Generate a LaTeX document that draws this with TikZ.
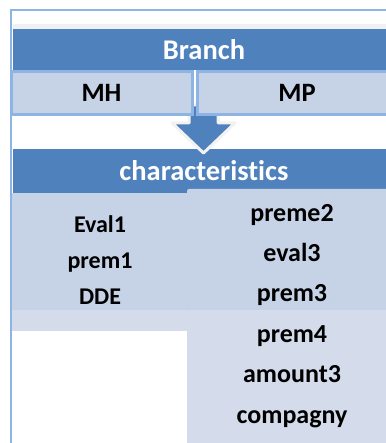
\documentclass[tikz,border=0pt]{standalone}
\usepackage{fontspec}
\setmainfont{Carlito}[Ligatures=NoCommon]
\definecolor{barblue}{RGB}{79,129,189}
\definecolor{boxfill}{RGB}{198,210,230}
\definecolor{boxlight}{RGB}{212,220,235}
\definecolor{edgeblue}{RGB}{141,180,226}
\definecolor{stripgray}{RGB}{241,241,241}
\tikzset{
  >=latex,
  bar/.style={fill=barblue,text=white,font=\bfseries\fontsize{28.5}{32}\selectfont,
    minimum width=382,minimum height=41,inner sep=0pt},
  tab/.style={fill=boxfill,draw=edgeblue,line width=3pt,font=\bfseries\fontsize{26.5}{30}\selectfont,
    minimum height=43,inner sep=0pt},
  item/.style={anchor=base,font=\bfseries\fontsize{24}{28}\selectfont,inner sep=0pt},
}
\begin{document}
\begin{tikzpicture}[x=1pt,y=-1pt]
    \useasboundingbox (0,0) rectangle (385,443);
    \fill[stripgray] (13,24) rectangle (395,29);
    \node[bar] (branch) at (204,49.5) {Branch};
    \node[bar,minimum height=44] (chars) at (204,171) {characteristics};
    % arrow between the two bars
    \filldraw[fill=barblue,draw=gray!10,line width=3pt,line join=round]
      (189,105)--(218,105)--(218,123)--(235,123)--(203.5,153)--(172,123)--(189,123)--cycle;
    \node[tab,minimum width=181] (mh) at (101.5,93) {MH};
    \node[tab,minimum width=200] (mp) at (297,93) {MP};
    % lists
    \begin{scope}
      \fill[boxfill] (10,193) rectangle (191,310);
      \fill[boxlight] (10,310) rectangle (191,331);
      \fill[boxfill,rounded corners=2pt] (187,189) rectangle (397,320);
      \fill[boxlight,rounded corners=2pt] (187,310) rectangle (397,445);
    \end{scope}
    \foreach \t [count=\i] in {Eval1,prem1,DDE}
      \node[item] (l\i) at (100,{232+36*(\i-1)}) {\t};
    \foreach \t [count=\i] in {preme2,eval3,prem3,prem4,amount3,compagny}
      \node[item,font=\bfseries\fontsize{26}{30}\selectfont] (r\i) at (292,{221+40.4*(\i-1)}) {\t};
    \draw[edgeblue,line width=2pt] (11,450)--(11,10)--(395,10);
  \end{tikzpicture}
\end{document}
